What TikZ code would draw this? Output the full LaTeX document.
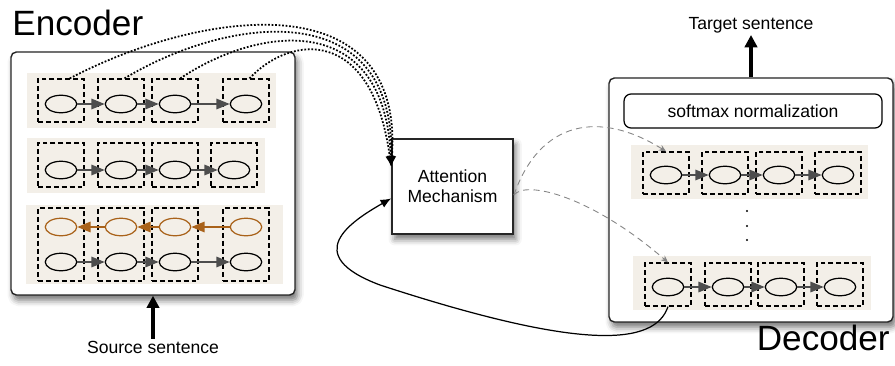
\documentclass[tikz,border=0pt]{standalone}
\usepackage{fontspec}
\setmainfont{Liberation Sans}
\definecolor{RowBeige}{HTML}{F3EFE8}
\definecolor{LinkGray}{HTML}{4D4D4D}
\definecolor{Rust}{HTML}{A9621A}
\definecolor{FlowGray}{HTML}{858585}
\usetikzlibrary{shapes.geometric,arrows.meta,shadows.blur}
\tikzset{
  panel/.style={draw=black!85, line width=0.8pt, rounded corners=3pt, fill=white,
    blur shadow={shadow xshift=1.5pt, shadow yshift=-3pt, shadow blur radius=3.5pt, shadow opacity=55}},
  title/.style={font=\fontsize{20}{24}\selectfont, inner sep=0pt},
  label/.style={font=\fontsize{10}{11.5}\selectfont, inner sep=1pt, align=center},
  cell/.style={draw, dash pattern=on 2.8pt off 1.7pt, line width=0.7pt, minimum width=0.92cm, inner sep=0pt},
  unit/.style={draw, ellipse, line width=0.7pt, minimum width=0.63cm, minimum height=0.35cm, inner sep=0pt},
  link/.style={LinkGray, line width=0.7pt, -{Triangle[length=7.5pt,width=6pt]}},
  attend/.style={line width=1pt, dash pattern=on 1pt off 1pt, -{Latex[length=6pt,width=5pt]}},
  feed/.style={FlowGray, line width=0.5pt, dash pattern=on 3.5pt off 2.5pt, -{Stealth[length=4pt,width=3.5pt]}},
  back/.style={line width=0.7pt, -{Latex[length=6pt,width=5pt]}},
  thickflow/.style={line width=1.8pt, -{Triangle[length=7pt,width=7pt]}}
}
\begin{document}
\begin{tikzpicture}[x=0.02cm, y=-0.02cm]
    \useasboundingbox (0,0) rectangle (895,365);
    % Encoder
    \node[panel, minimum width=5.68cm, minimum height=4.86cm] (encoder) at (153,173.5) {};
    \node[title, anchor=base west] (enctitle) at (12,35) {Encoder};
    \fill[RowBeige] (27,73) rectangle (276,128);
    \fill[RowBeige] (27,138) rectangle (265,193);
    \fill[RowBeige] (26,205) rectangle (283,284);
    \foreach \x [count=\i] in {61,121,175,246} {
        \node[cell, minimum height=0.86cm] (ca\i) at (\x,100.5) {};
        \node[unit] (ua\i) at (\x,104) {};
    }
    \foreach \x [count=\i] in {61,121,175,234} {
        \node[cell, minimum height=0.88cm] (cb\i) at (\x,165) {};
        \node[unit] (ub\i) at (\x,170) {};
    }
    \foreach \x [count=\i] in {61,121,175,246} {
        \node[cell, minimum height=1.46cm] (cc\i) at (\x,244.5) {};
        \node[unit, draw=Rust] (rc\i) at (\x,227) {};
        \node[unit] (uc\i) at (\x,262) {};
    }
    \foreach \i/\j in {1/2,2/3,3/4} {
        \draw[link] (ua\i) -- (ua\j);
        \draw[link] (ub\i) -- (ub\j);
        \draw[link] (uc\i) -- (uc\j);
        \draw[link, Rust] (rc\j) -- (rc\i);
    }
    \node[label] (source) at (153,347) {Source sentence};
    \draw[thickflow] (source) -- (encoder);

    % Attention
    \node[panel, rounded corners=0pt, line width=1pt, minimum width=2.42cm, minimum height=1.9cm,
        label] (attn) at (452.5,186.5) {Attention\\Mechanism};
    \draw[attend] ([xshift=5pt]ca1.north) .. controls (200,10) and (405,-20) .. (attn.162);
    \draw[attend] ([xshift=2pt]ca2.north) .. controls (230,15) and (395,-5) .. (attn.162);
    \draw[attend] ([xshift=3pt]ca3.north) .. controls (260,25) and (385,10) .. (attn.162);
    \draw[attend] ([xshift=2pt]ca4.north) .. controls (290,35) and (372,25) .. (attn.162);

    % Decoder
    \node[panel, minimum width=5.68cm, minimum height=4.88cm] (decoder) at (751,200) {};
    \node[title, anchor=base east] (dectitle) at (890,350) {Decoder};
    \node[draw, line width=0.7pt, rounded corners=4pt, minimum width=5.16cm, minimum height=0.68cm,
        label] (softmax) at (753,111) {softmax normalization};
    \fill[RowBeige] (631,145) rectangle (868,199);
    \fill[RowBeige] (633,256) rectangle (871,310);
    \foreach \x [count=\i] in {666,725,779,838} {
        \node[cell, minimum height=0.84cm] (da\i) at (\x,173) {};
        \node[unit] (va\i) at (\x,175) {};
    }
    \foreach \x [count=\i] in {668,728,781,840} {
        \node[cell, minimum height=0.86cm] (db\i) at (\x,284.5) {};
        \node[unit] (vb\i) at (\x,287) {};
    }
    \foreach \i/\j in {1/2,2/3,3/4} {
        \draw[link] (va\i) -- (va\j);
        \draw[link] (vb\i) -- (vb\j);
    }
    \foreach \y in {211,226,240}
        \fill (747,\y) circle (0.6pt);
    \node[label] (target) at (751,25) {Target sentence};
    \draw[thickflow] (decoder) -- (target);

    % Links between attention and decoder
    \draw[feed] (attn.352) .. controls (540,120) and (600,110) .. (da1.north);
    \draw[feed] (attn.352) .. controls (525,180) and (590,195) .. (db1.north);
    \draw[back] (db1.south) .. controls (655,345) and (585,352) .. (380,285)
        .. controls (300,255) and (350,222) .. (attn.191);
\end{tikzpicture}
\end{document}
